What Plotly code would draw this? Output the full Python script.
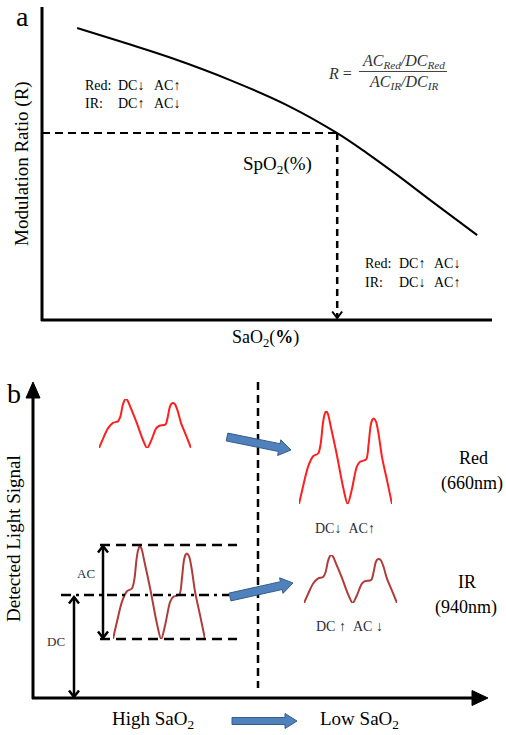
import plotly.graph_objects as go

W, H = 506, 735

# ---------------- data ----------------
# Panel a: calibration curve (SaO2 axis 0-100, modulation ratio 0-100, arbitrary units)
sao2 = [7.8, 18.0, 29.1, 41.8, 54.4, 65.6, 72.2, 78.9, 86.2, 96.7]
ratio = [93.6, 89.0, 83.8, 76.9, 68.9, 59.9, 53.5, 46.5, 38.5, 27.2]
spo2_point = (65.6, 59.9)

# Panel b: normalised PPG pulse template (two beats)
wave_t = [0.0, 0.043, 0.097, 0.152, 0.206, 0.232, 0.256, 0.274, 0.292, 0.312, 0.342, 0.404, 0.477, 0.523,
          0.567, 0.621, 0.657, 0.722, 0.748, 0.770, 0.788, 0.806, 0.828, 0.857, 0.892, 0.946, 1.0]
wave_v = [0.0, 0.186, 0.40, 0.514, 0.543, 0.64, 0.86, 0.96, 1.0, 0.965, 0.83, 0.543, 0.168, 0.0,
          0.15, 0.40, 0.454, 0.479, 0.64, 0.84, 0.905, 0.918, 0.885, 0.745, 0.507, 0.257, 0.0]

# text labels
panel_a_left = [("Red:", "DC↓", "AC↑"), ("IR:", "DC↑", "AC↓")]
panel_a_right = [("Red:", "DC↑", "AC↓"), ("IR:", "DC↓", "AC↑")]

SERIF = "Liberation Serif"
RED = "#ff1f1f"
IRC = "#ad3c3a"
BLUE = "#4f81bd"
BLUE_EDGE = "#385d8a"

fig = go.Figure()


def dx(px):
    return px / W


def dy(py):
    return 1 - py / H


layout = dict(
    width=W, height=H, margin=dict(l=0, r=0, t=0, b=0),
    paper_bgcolor="white", plot_bgcolor="rgba(0,0,0,0)", showlegend=False,
    font=dict(family=SERIF),
    xaxis=dict(domain=[0, 1], range=[0, W], visible=False, fixedrange=True),
    yaxis=dict(domain=[0, 1], range=[H, 0], visible=False, fixedrange=True),
    xaxis2=dict(domain=[dx(42), dx(492)], range=[0, 100], visible=False, anchor="y2"),
    yaxis2=dict(domain=[dy(320), dy(8)], range=[0, 100], visible=False, anchor="x2"),
)

fig.add_trace(go.Scatter(x=[0, W], y=[0, H], mode="markers",
                         marker=dict(opacity=0), hoverinfo="skip", xaxis="x", yaxis="y"))

fig.add_trace(go.Scatter(x=sao2, y=ratio, mode="lines", line=dict(color="black", width=2, shape="spline"),
                         xaxis="x2", yaxis="y2", hoverinfo="skip"))

wave_boxes = [  # (x0, x1, ytop, ybottom, color)
    (99, 191, 399, 448, RED),
    (299, 392, 411, 504, RED),
    (113, 205, 546, 639, IRC),
    (304, 397, 555, 603, IRC),
]
for i, (x0, x1, yt, yb, col) in enumerate(wave_boxes):
    n = i + 3
    layout[f"xaxis{n}"] = dict(domain=[dx(x0), dx(x1)], range=[0, 1], visible=False, anchor=f"y{n}")
    layout[f"yaxis{n}"] = dict(domain=[dy(yb), dy(yt)], range=[0, 1], visible=False, anchor=f"x{n}")
    fig.add_trace(go.Scatter(x=wave_t, y=wave_v, mode="lines",
                             line=dict(color=col, width=2, shape="spline", smoothing=0.8),
                             xaxis=f"x{n}", yaxis=f"y{n}", hoverinfo="skip", cliponaxis=False))

fig.update_layout(**layout)

shapes = []


def line(x0, y0, x1, y1, width=2.5, dash="solid", color="black", xref="x", yref="y"):
    shapes.append(dict(type="line", x0=x0, y0=y0, x1=x1, y1=y1, xref=xref, yref=yref,
                       line=dict(color=color, width=width, dash=dash), layer="above"))


def path(d, fill=None, color="black", width=2.5):
    shapes.append(dict(type="path", path=d, xref="x", yref="y",
                       fillcolor=fill if fill else "rgba(0,0,0,0)",
                       line=dict(color=color, width=width), layer="above"))


def tri(tip, direction, length=15, half=7):
    x, y = tip
    if direction == "up":
        d = f"M {x} {y} L {x-half} {y+length} L {x+half} {y+length} Z"
    else:
        d = f"M {x} {y} L {x-length} {y-half} L {x-length} {y+half} Z"
    path(d, fill="black", width=1)


def vhead(x, y, direction, size=6, width=2.5):
    if direction == "down":
        d = f"M {x-size} {y-size*1.3} L {x} {y} L {x+size} {y-size*1.3}"
    else:
        d = f"M {x-size} {y+size*1.3} L {x} {y} L {x+size} {y+size*1.3}"
    path(d, width=width)


def block_arrow(x0, y0, x1, y1, sw=3.5, hw=7.5, hl=12):
    import math
    L = math.hypot(x1 - x0, y1 - y0)
    ux, uy = (x1 - x0) / L, (y1 - y0) / L
    nx, ny = -uy, ux
    bx, by = x1 - ux * hl, y1 - uy * hl
    pts = [
        (x0 + nx * sw, y0 + ny * sw), (bx + nx * sw, by + ny * sw), (bx + nx * hw, by + ny * hw),
        (x1, y1),
        (bx - nx * hw, by - ny * hw), (bx - nx * sw, by - ny * sw), (x0 - nx * sw, y0 - ny * sw)]
    d = "M " + " L ".join(f"{px:.1f} {py:.1f}" for px, py in pts) + " Z"
    path(d, fill=BLUE, color=BLUE_EDGE, width=1)


# ---- panel a axes ----
line(42, 7, 42, 321, width=3)
line(41, 320, 492, 320, width=3)
sx, sy = spo2_point
line(0, sy, sx, sy, width=2, dash="8px,5px", xref="x2", yref="y2")
line(sx, sy, sx, 1.0, width=2.5, dash="7px,5px", xref="x2", yref="y2")
vhead(42 + sx / 100 * 450, 318, "down", size=5, width=2)

# ---- panel b axes ----
line(33, 395, 33, 699, width=3)
line(32, 698, 474, 698, width=3)
tri((33, 382), "up", length=16, half=7)
tri((488, 698), "right", length=16, half=7.5)

line(258, 382, 258, 688, width=2.5, dash="8px,5px")
line(100, 545, 237, 545, width=2.5, dash="10px,6px")
line(100, 639, 237, 639, width=2.5, dash="10px,6px")
line(61, 595, 229, 595, width=2.5, dash="10px,5px,3px,5px")
line(103, 546, 103, 638, width=2.5)
vhead(103, 546, "up", size=5)
vhead(103, 638, "down", size=5)
line(74, 597, 74, 697, width=2.5)
vhead(74, 597, "up", size=5)
vhead(74, 697, "down", size=5)

block_arrow(227, 437, 291, 450, sw=4, hw=8)
block_arrow(230, 597, 293, 583, sw=4, hw=8)
block_arrow(232, 721, 297, 721, sw=3.5, hw=7.5, hl=12)

line(359, 71.5, 447, 71.5, width=1.2, color="#444")

fig.update_layout(shapes=shapes)

ann = []


def text(x, y, s, size=14, xanchor="center", yanchor="middle", color="black", angle=0, family=SERIF):
    ann.append(dict(x=x, y=y, xref="x", yref="y", text=s, showarrow=False, xanchor=xanchor,
                    yanchor=yanchor, textangle=angle, font=dict(family=family, size=size, color=color)))


text(22, 16, "a", size=28)
text(22, 164, "Modulation Ratio (R)", size=19, angle=-90)
text(265, 338, "SaO<sub>2</sub>(<b>%</b>)", size=18)
text(277, 165, "SpO<sub>2</sub>(%)", size=19)

for (row, yy) in zip(panel_a_left, [85, 103]):
    text(83, yy, row[0], size=14, xanchor="left")
    text(116, yy, row[1], size=14, xanchor="left")
    text(152, yy, row[2], size=14, xanchor="left")
for (row, yy) in zip(panel_a_right, [263, 282]):
    text(363, yy, row[0], size=14, xanchor="left")
    text(397, yy, row[1], size=14, xanchor="left")
    text(432, yy, row[2], size=14, xanchor="left")

FC = "#333"
text(340, 73, "<i>R</i> =", size=16, color=FC)
text(403, 61, "<i>AC<sub>Red</sub>/DC<sub>Red</sub></i>", size=16, color=FC)
text(403, 82, "<i>AC<sub>IR</sub>/DC<sub>IR</sub></i>", size=16, color=FC)

text(14, 393, "b", size=28)
text(13, 539, "Detected Light Signal", size=19, angle=-90)
text(473, 458, "Red", size=18)
text(472, 483, "(660nm)", size=18)
text(467, 582, "IR", size=18)
text(466, 607, "(940nm)", size=18)
text(345, 528, "DC↓  AC↑".replace(" ", "\u00a0"), size=14, color="#2d2d3a")
text(349, 626, "DC ↑  AC ↓".replace(" ", "\u00a0"), size=14, color="#2d2d3a")
text(86, 573, "AC", size=13, color="#2d2d3a")
text(56, 641, "DC", size=13, color="#2d2d3a")
text(153, 720, "High SaO<sub>2</sub>", size=19)
text(359, 720, "Low SaO<sub>2</sub>", size=19)

fig.update_layout(annotations=ann)

fig.write_html("out.html", config={"displayModeBar": False, "staticPlot": True},
               post_script="document.body.style.margin='0';")
